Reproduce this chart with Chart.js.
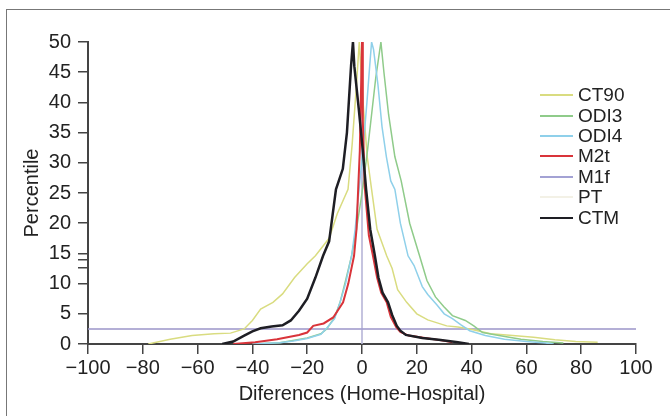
<!DOCTYPE html>
<html>
<head>
<meta charset="utf-8">
<script src="https://cdn.jsdelivr.net/npm/chart.js@4.4.0/dist/chart.umd.min.js"></script>
<style>
html, body { margin: 0; padding: 0; background: #fff; }
#wrap { position: relative; width: 670px; height: 416px; overflow: hidden; }
#frame { position: absolute; left: 6px; top: 9px; width: 700px; height: 420px; border-left: 1px solid #777; border-top: 1px solid #777; }
#legend { position: absolute; left: 540px; top: 85px; font: 19px 'Liberation Sans', Arial, sans-serif; color: #222; }
.item { display: flex; align-items: center; height: 20.4px; }
.swatch { display: inline-block; width: 33px; margin-right: 5px; }
</style>
</head>
<body>
<div id="wrap">
  <div id="frame"></div>
  <canvas id="chart" width="670" height="416"></canvas>
  <div id="legend"></div>
</div>
<script>
// tick values
const xTicks = [-100, -80, -60, -40, -20, 0, 20, 40, 60, 80, 100];
const yTicks = [0, 5, 10, 15, 20, 25, 30, 35, 40, 45, 50];
const yExtraTicks = [12.6, 13.9];

// mountain plot curves, [difference, percentile]
const ct90 = [[-78,0],[-70,0.8],[-62,1.4],[-54,1.7],[-48,1.8],[-43,2.5],[-40,3.9],[-37,5.8],[-32.5,6.9],[-29,8.3],
  [-24.6,11],[-20,13.3],[-17,14.6],[-12,17.5],[-9,21.6],[-5.1,25.6],[-3.6,33],[-2,43],[-1,50],[0.3,40.5],[1.9,31],
  [3.5,25.6],[5.5,19],[9,14.6],[11,12.5],[13,9],[16.3,6.9],[20,5],[24,4],[30.9,3],[35,2.8],[39.3,2.5],[47,1.7],
  [55,1.4],[62.6,1.1],[70.4,0.7],[78,0.4],[86,0.3]];
const odi3 = [[-40,0],[-30,0.2],[-20,1.0],[-15,1.7],[-12.9,2.5],[-10,4.4],[-8,6.9],[-6,10.5],[-3.8,14.6],[-2,19],
  [0,25],[2,32],[3.5,38],[5,44],[6.9,50],[8,45],[9.7,38],[12,31],[14.3,27],[17.4,20],[21,14.6],[23.7,10.5],
  [26.8,7.8],[29.8,6.2],[33,4.7],[37.7,3.9],[40.8,3],[44,1.9],[50,1.4],[58,0.8],[66,0.4],[73.5,0.15]];
const odi4 = [[-40,0],[-30,0.2],[-25,0.5],[-20,0.9],[-15,1.6],[-12.9,2.6],[-10,4.2],[-8,6.9],[-6,10],[-3.8,14.6],
  [-2.5,19],[-1.2,25],[0.5,33],[1.8,40],[2.8,46],[3.5,50],[4.2,48.8],[5.8,43],[7.3,36],[8.9,31],[10.5,27],
  [12,25.6],[14,20],[16.8,14.6],[19,13],[22,9.5],[24,8.2],[27.3,6.5],[30,5],[33,4.2],[36,3.2],[39.3,2.2],
  [45,1.4],[52,0.8],[60,0.4],[67,0.15],[70,0]];
const m2t = [[-47,0],[-39,0.3],[-31,0.8],[-23,1.5],[-20,1.9],[-17.8,3],[-14,3.4],[-10.5,4.4],[-6.9,6.9],[-5,10],
  [-2.9,14.6],[-2,19],[-1.4,25.6],[-0.8,32],[0,50],[0.3,37],[1,26],[2.5,18],[4,14.6],[5.5,11],[7,8.5],[9,6.9],
  [10.5,4.5],[12.5,2.8],[14,2],[17,1.4],[23,1.0],[29,0.6],[33,0.3]];
const m1f = [[0,0],[0,50]];
const pt = [[0,0],[0,50]];
const ctm = [[-51,0],[-47,0.4],[-43,1.4],[-40,2.1],[-37,2.6],[-33,2.9],[-29,3.1],[-26,3.9],[-23,5.5],[-20,7.5],
  [-17,11],[-14.2,14.6],[-12,17],[-9.5,25.6],[-7,29],[-5.5,35],[-4,46],[-3.3,50],[-2.8,46],[-1.2,39],[0.3,32],
  [1.5,25.6],[3,19],[4.7,14.6],[6,11],[7.5,8.5],[9.5,6.9],[11,4.8],[12.7,3],[14,2.2],[16,1.5],[22,1.0],[28,0.7],
  [35,0.3],[39,0]];
const refLine = [[-100,2.5],[100,2.5]];

const toPoints = arr => arr.map(([x, y]) => ({ x, y }));

Chart.defaults.font.family = "'Liberation Sans', Arial, sans-serif";
Chart.defaults.font.size = 20;
Chart.defaults.color = '#222';

const ctx = document.getElementById('chart').getContext('2d');

const chart = new Chart(ctx, {
  type: 'line',
  data: {
    datasets: [
      { label: 'CT90', data: toPoints(ct90), borderColor: '#d9dc80', borderWidth: 1.5, order: 4 },
      { label: 'ODI3', data: toPoints(odi3), borderColor: '#8fcb8a', borderWidth: 1.5, order: 3 },
      { label: 'ODI4', data: toPoints(odi4), borderColor: '#8fd0ea', borderWidth: 1.5, order: 2 },
      { label: 'M2t', data: toPoints(m2t), borderColor: '#d9343a', borderWidth: 2, order: 1 },
      { label: 'M1f', data: toPoints(m1f), borderColor: '#a3a2d4', borderWidth: 1.2, order: 5 },
      { label: 'PT', data: toPoints(pt), borderColor: '#f3f1e6', borderWidth: 1.2, order: 7 },
      { label: 'CTM', data: toPoints(ctm), borderColor: '#1e1e24', borderWidth: 2.5, order: 0 },
      { label: '', data: toPoints(refLine), borderColor: '#9b94c9', borderWidth: 1.5, order: 6 }
    ]
  },
  options: {
    responsive: false,
    animation: false,
    layout: { padding: { top: 42, right: 34, left: 0, bottom: 0 } },
    elements: { point: { radius: 0 }, line: { tension: 0 } },
    plugins: { legend: { display: false }, tooltip: { enabled: false } },
    scales: {
      x: {
        type: 'linear', min: -100, max: 100,
        afterBuildTicks: s => { s.ticks = xTicks.map(v => ({ value: v })); },
        afterFit: s => { s.height = 72; },
        ticks: { padding: 2, maxRotation: 0, minRotation: 0, autoSkip: false,
                 callback: v => String(v).replace('-', '\u2212') },
        grid: { drawOnChartArea: false, tickLength: 10, color: '#444', lineWidth: 1.5 },
        border: { color: '#444', width: 2 },
        title: { display: true, text: 'Diferences (Home-Hospital)', padding: { top: 0, bottom: 10 } }
      },
      y: {
        min: 0, max: 50,
        afterBuildTicks: s => { s.ticks = yTicks.concat(yExtraTicks).map(v => ({ value: v })); },
        afterFit: s => { s.width = 88; },
        ticks: { padding: 7, autoSkip: false, callback: v => yTicks.includes(v) ? String(v) : '' },
        grid: { drawOnChartArea: false, tickLength: 10, color: '#444', lineWidth: 1.5 },
        border: { color: '#444', width: 2 },
        title: { display: true, text: 'Percentile', padding: { top: 20, bottom: 0 } }
      }
    }
  }
});

// legend next to the curves
const legendBox = document.getElementById('legend');
chart.data.datasets.filter(d => d.label).forEach(d => {
  const row = document.createElement('div');
  row.className = 'item';
  row.innerHTML = '<span class="swatch" style="border-top:' + Math.max(2, d.borderWidth) + 'px solid ' +
    d.borderColor + '"></span><span>' + d.label + '</span>';
  legendBox.appendChild(row);
});
</script>
</body>
</html>
